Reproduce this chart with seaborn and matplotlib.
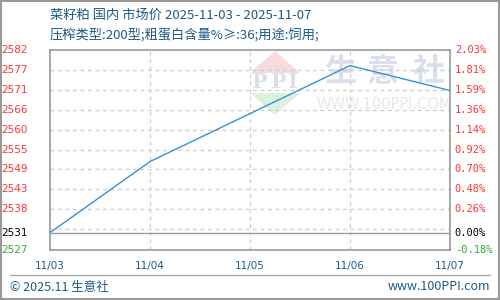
import matplotlib
matplotlib.use("Agg")
import matplotlib.pyplot as plt
import seaborn as sns
import numpy as np
import pandas as pd
from matplotlib.patches import Polygon, Rectangle

dates = ["11/03", "11/04", "11/05", "11/06", "11/07"]
prices = [2531, 2551, 2564.5, 2578, 2571]
base_price = 2531
left_labels = ["2582", "2577", "2571", "2566", "2560", "2555", "2549", "2543", "2538"]
right_labels = ["2.03%", "1.81%", "1.59%", "1.36%", "1.14%", "0.92%", "0.70%", "0.48%", "0.26%"]
bottom_left_label = "2527"
bottom_right_label = "-0.18%"
title1 = "菜籽粕 国内 市场价 2025-11-03 - 2025-11-07"
title2 = "压榨类型:200型;粗蛋白含量%≥:36;用途:饲用;"
footer_left = "© 2025.11 生意社"
footer_right = "www.100PPI.com"

sns.set_theme(style="white")
plt.rcParams['font.family'] = ['Noto Sans CJK SC', 'DejaVu Sans']

fig = plt.figure(figsize=(5, 3), dpi=100)
ax = fig.add_axes([0.1, 1 - 250 / 300, 0.8, 200 / 300])

ymax = 2582.4
step = 5.6
ymin = ymax - step * (201 / 20)
ax.set_ylim(ymin, ymax)
ax.set_xlim(0, len(dates) - 1)

df = pd.DataFrame({"x": np.arange(len(dates)), "price": prices})

# watermark
wm = "#d9dfeb"
for ch, xc in zip("生意社", [0.725, 0.8325, 0.9475]):
    ax.text(xc, 0.89, ch, transform=ax.transAxes, fontsize=23, color=wm,
            ha="center", va="center", zorder=0.5, fontweight="bold")
ax.text(0.835, 0.7275, "WWW.100PPI.COM", transform=ax.transAxes, fontsize=10.5, color="#e8e8e8",
        ha="center", va="center", zorder=0.5, family="Liberation Sans Narrow")
ax.add_patch(Polygon([[0.5625, 0.995], [0.5, 0.885], [0.625, 0.885]], closed=True,
                     transform=ax.transAxes, color="#f8dcdc", zorder=0.5, lw=0))
ax.add_patch(Polygon([[0.5, 0.785], [0.625, 0.785], [0.5625, 0.675]], closed=True,
                     transform=ax.transAxes, color="#dcf0dc", zorder=0.5, lw=0))
for ch, xc in zip("PPI", [0.525, 0.5725, 0.6075]):
    ax.text(xc, 0.8375, ch, transform=ax.transAxes, fontsize=15, color=wm,
            ha="center", va="center", zorder=0.5, fontweight="bold", family="DejaVu Serif")

# grid lines
for k in range(1, 10):
    ax.axhline(ymax - k * step, color="#cccccc", lw=0.9, ls=(0, (3, 3)), zorder=1)
for i in range(1, len(dates) - 1):
    ax.axvline(i, color="#cccccc", lw=0.9, ls=(0, (3, 3)), zorder=1)
ax.axhline(base_price, color="#999999", lw=1.0, zorder=2)

sns.lineplot(data=df, x="x", y="price", ax=ax, color="#3592d6", lw=1.0, zorder=3)

ax.set_xlabel("")
ax.set_ylabel("")
ax.set_xticks(np.arange(len(dates)))
ax.set_xticklabels(dates, color="#1d5a86", fontsize=7.5, family="DejaVu Sans")
ax.tick_params(axis="x", length=0, pad=8)
ax.set_yticks([])

for s in ax.spines.values():
    s.set_color("#999999")
    s.set_linewidth(1.2)

# y labels
ticks = [ymax - k * step for k in range(9)]
for t, l, r in zip(ticks, left_labels, right_labels):
    ax.text(-0.055, t, l, transform=ax.get_yaxis_transform(), color="#ff3333",
            fontsize=7.5, ha="right", va="center", family="DejaVu Sans")
    ax.text(1.012, t, r, transform=ax.get_yaxis_transform(), color="#ff3333",
            fontsize=7.5, ha="left", va="center", family="DejaVu Sans Mono")
ax.text(-0.055, base_price, str(base_price), transform=ax.get_yaxis_transform(), color="black",
        fontsize=7.5, ha="right", va="center", family="DejaVu Sans")
ax.text(1.012, base_price, "0.00%", transform=ax.get_yaxis_transform(), color="black",
        fontsize=7.5, ha="left", va="center", family="DejaVu Sans Mono")
ax.text(-0.055, ymin, bottom_left_label, transform=ax.get_yaxis_transform(), color="#33aa33",
        fontsize=7.5, ha="right", va="center", family="DejaVu Sans")
ax.text(1.012, ymin, bottom_right_label, transform=ax.get_yaxis_transform(), color="#33aa33",
        fontsize=7.5, ha="left", va="center", family="DejaVu Sans Mono")

# titles
fig.text(50 / 500, 1 - 15 / 300, title1, color="#1d5a86", fontsize=9.5, ha="left", va="center")
fig.text(50 / 500, 1 - 35 / 300, title2, color="#1d5a86", fontsize=9.5, ha="left", va="center")

# footer
fig.add_artist(plt.Line2D([10 / 500, 490 / 500], [1 - 275 / 300] * 2, color="#aaaaaa", lw=1.0))
fig.text(10 / 500, 1 - 287 / 300, footer_left, color="#1d5a86", fontsize=9, ha="left", va="center")
fig.text(490 / 500, 1 - 287 / 300, footer_right, color="#1d5a86", fontsize=9, ha="right", va="center")

# outer border
fig.add_artist(Rectangle((0.001, 0.002), 0.997, 0.995, transform=fig.transFigure,
                         fill=False, edgecolor="#999999", lw=1.5))

fig.savefig("out.png", dpi=100)
